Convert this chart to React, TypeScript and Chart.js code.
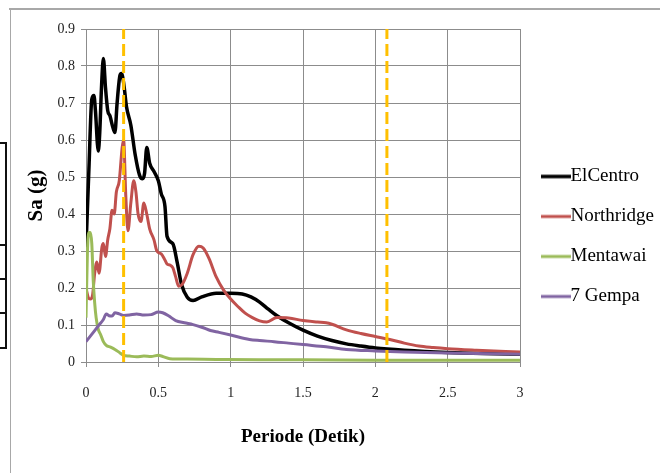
import React, { useEffect, useRef } from 'react';
import { Chart, registerables } from 'chart.js';

Chart.register(...registerables);

// ---- data (Periode in detik, Sa in g) ----
const SERIES_NAMES = ['ElCentro', 'Northridge', 'Mentawai', '7 Gempa'];

const ELCENTRO_T = [0, 0.02, 0.04, 0.055, 0.065, 0.085, 0.095, 0.108, 0.12, 0.135, 0.15, 0.166, 0.185, 0.2, 0.215, 0.235, 0.245, 0.26, 0.28, 0.31, 0.34, 0.37, 0.39, 0.405, 0.42, 0.44, 0.47, 0.5, 0.52, 0.546, 0.56, 0.6, 0.63, 0.66, 0.7, 0.74, 0.8, 0.9, 1.0, 1.08, 1.14, 1.2, 1.26, 1.32, 1.4, 1.5, 1.6, 1.7, 1.8, 1.9, 2.0, 2.2, 2.5, 2.75, 3.0];
const ELCENTRO_SA = [0.31, 0.52, 0.71, 0.72, 0.68, 0.57, 0.62, 0.75, 0.82, 0.74, 0.68, 0.665, 0.635, 0.62, 0.7, 0.775, 0.78, 0.755, 0.69, 0.64, 0.56, 0.505, 0.495, 0.51, 0.58, 0.537, 0.515, 0.49, 0.455, 0.42, 0.34, 0.32, 0.27, 0.21, 0.175, 0.166, 0.176, 0.186, 0.186, 0.184, 0.176, 0.162, 0.143, 0.125, 0.106, 0.086, 0.07, 0.058, 0.049, 0.043, 0.038, 0.032, 0.026, 0.023, 0.021];

const NORTHRIDGE_T = [0, 0.015, 0.03, 0.045, 0.06, 0.075, 0.09, 0.11, 0.12, 0.135, 0.15, 0.165, 0.18, 0.195, 0.21, 0.23, 0.25, 0.26, 0.275, 0.29, 0.31, 0.33, 0.345, 0.36, 0.38, 0.4, 0.42, 0.44, 0.47, 0.49, 0.52, 0.54, 0.56, 0.58, 0.6, 0.62, 0.64, 0.665, 0.7, 0.74, 0.78, 0.81, 0.85, 0.9, 0.95, 1.0, 1.05, 1.1, 1.15, 1.2, 1.25, 1.32, 1.4, 1.5, 1.6, 1.66, 1.7, 1.8, 1.9, 2.0, 2.1, 2.2, 2.3, 2.4, 2.5, 2.7, 3.0];
const NORTHRIDGE_SA = [0.2, 0.175, 0.17, 0.18, 0.24, 0.27, 0.24, 0.31, 0.32, 0.285, 0.33, 0.36, 0.41, 0.4, 0.46, 0.49, 0.58, 0.6, 0.45, 0.355, 0.43, 0.49, 0.46, 0.4, 0.38, 0.43, 0.4, 0.36, 0.33, 0.3, 0.292, 0.28, 0.265, 0.262, 0.255, 0.23, 0.205, 0.21, 0.24, 0.29, 0.313, 0.308, 0.28, 0.23, 0.195, 0.17, 0.15, 0.132, 0.12, 0.111, 0.108, 0.12, 0.119, 0.112, 0.108, 0.106, 0.102, 0.087, 0.077, 0.069, 0.061, 0.051, 0.043, 0.039, 0.036, 0.032, 0.027];

const MENTAWAI_T = [0, 0.01, 0.02, 0.03, 0.04, 0.05, 0.06, 0.07, 0.085, 0.1, 0.12, 0.14, 0.17, 0.2, 0.23, 0.26, 0.3, 0.35, 0.4, 0.45, 0.5, 0.53, 0.58, 0.7, 0.9, 1.2, 1.5, 2.0, 2.5, 3.0];
const MENTAWAI_SA = [0.12, 0.3, 0.35, 0.35, 0.32, 0.22, 0.16, 0.12, 0.088, 0.075, 0.055, 0.045, 0.04, 0.034, 0.026, 0.018, 0.016, 0.014, 0.016, 0.015, 0.018, 0.015, 0.009, 0.008, 0.007, 0.006, 0.006, 0.005, 0.005, 0.005];

const GEMPA7_T = [0, 0.03, 0.06, 0.09, 0.12, 0.14, 0.16, 0.18, 0.2, 0.23, 0.26, 0.3, 0.35, 0.4, 0.45, 0.5, 0.53, 0.57, 0.62, 0.68, 0.74, 0.8, 0.86, 0.92, 1.0, 1.13, 1.2, 1.3, 1.4, 1.5, 1.66, 1.8, 2.0, 2.2, 2.5, 2.8, 3.0];
const GEMPA7_SA = [0.055, 0.07, 0.085, 0.1, 0.115, 0.13, 0.125, 0.124, 0.133, 0.13, 0.126, 0.127, 0.13, 0.127, 0.128, 0.135, 0.133, 0.125, 0.112, 0.106, 0.101, 0.094, 0.085, 0.08, 0.073, 0.061, 0.058, 0.055, 0.051, 0.047, 0.041, 0.034, 0.03, 0.027, 0.024, 0.022, 0.021];

const REF_PERIODS = [0.26, 2.08];
const REF_SA_RANGE = [0, 0.9];

const X_TICKS = [0, 0.5, 1, 1.5, 2, 2.5, 3];
const X_TICK_LABELS = ['0', '0.5', '1', '1.5', '2', '2.5', '3'];
const Y_TICKS = [0, 0.1, 0.2, 0.3, 0.4, 0.5, 0.6, 0.7, 0.8, 0.9];
const Y_TICK_LABELS = ['0', '0.1', '0.2', '0.3', '0.4', '0.5', '0.6', '0.7', '0.8', '0.9'];

const COLORS = ['#000000', '#C0504D', '#9BBB59', '#8064A2'];
const WIDTHS = [3.5, 3, 3, 3];
const REF_COLOR = '#FFC000';

const zip = (xs: number[], ys: number[]) => xs.map((x, i) => ({ x, y: ys[i] }));

function makeSwatch(color: string, width: number) {
  const c = document.createElement('canvas');
  c.width = 40;
  c.height = 8;
  const g = c.getContext('2d')!;
  g.strokeStyle = color;
  g.lineWidth = width;
  g.beginPath();
  g.moveTo(10, 4);
  g.lineTo(40, 4);
  g.stroke();
  return c;
}

export default function App() {
  const ref = useRef<HTMLCanvasElement | null>(null);

  useEffect(() => {
    if (!ref.current) return;
    const swatches = COLORS.map((c, i) => makeSwatch(c, WIDTHS[i]));
    const seriesT = [ELCENTRO_T, NORTHRIDGE_T, MENTAWAI_T, GEMPA7_T];
    const seriesSa = [ELCENTRO_SA, NORTHRIDGE_SA, MENTAWAI_SA, GEMPA7_SA];

    const datasets: any[] = SERIES_NAMES.map((name, i) => ({
      label: name,
      data: zip(seriesT[i], seriesSa[i]),
      borderColor: COLORS[i],
      backgroundColor: COLORS[i],
      borderWidth: WIDTHS[i],
      pointRadius: 0,
      cubicInterpolationMode: 'monotone',
      order: 4 - i,
    }));
    REF_PERIODS.forEach((p, k) => {
      datasets.push({
        label: 'ref' + k,
        data: REF_SA_RANGE.map((y) => ({ x: p, y })),
        borderColor: REF_COLOR,
        borderWidth: 3,
        borderDash: [12, 5],
        pointRadius: 0,
        order: 0,
      });
    });

    const labelFor = (values: number[], labels: string[]) => (v: any) => {
      const idx = values.findIndex((t) => Math.abs(t - Number(v)) < 1e-9);
      return idx >= 0 ? labels[idx] : '';
    };

    const gridColor = '#8c8c8c';
    const chart = new Chart(ref.current, {
      type: 'line',
      data: { datasets },
      options: {
        responsive: false,
        animation: false,
        devicePixelRatio: 1,
        layout: { padding: 0 },
        plugins: {
          tooltip: { enabled: false },
          title: {
            display: true,
            text: ' ',
            font: { size: 10 },
            padding: { top: 17, bottom: 0 },
          },
          legend: {
            position: 'right',
            align: 'center',
            maxWidth: 140,
            labels: {
              usePointStyle: true,
              pointStyleWidth: 20,
              padding: 21,
              color: '#000',
              font: { family: 'Liberation Serif', size: 19 },
              generateLabels: (ch: any) => {
                const items = (Chart as any).defaults.plugins.legend.labels.generateLabels(ch);
                return items
                  .filter((it: any) => it.datasetIndex < 4)
                  .sort((a: any, b: any) => a.datasetIndex - b.datasetIndex)
                  .map((it: any) => ({ ...it, pointStyle: swatches[it.datasetIndex], fontColor: '#000' }));
              },
            },
          },
        },
        scales: {
          x: {
            type: 'linear',
            min: 0,
            max: 3,
            afterBuildTicks: (s: any) => {
              s.ticks = X_TICKS.map((v) => ({ value: v }));
            },
            afterFit: (s: any) => {
              s.height = 111;
            },
            ticks: {
              color: '#222',
              padding: 18,
              font: { family: 'Liberation Serif', size: 14 },
              callback: labelFor(X_TICKS, X_TICK_LABELS),
            },
            grid: { color: gridColor, lineWidth: 1, tickLength: 5 },
            border: { color: gridColor, width: 1 },
            title: {
              display: true,
              text: 'Periode (Detik)',
              color: '#000',
              font: { family: 'Liberation Serif', size: 19, weight: 'bold' },
              padding: { top: 0, bottom: 25 },
            },
          },
          y: {
            type: 'linear',
            min: 0,
            max: 0.9,
            afterBuildTicks: (s: any) => {
              s.ticks = Y_TICKS.map((v) => ({ value: v }));
            },
            afterFit: (s: any) => {
              s.width = 86;
            },
            ticks: {
              color: '#222',
              padding: 6,
              font: { family: 'Liberation Serif', size: 14 },
              callback: labelFor(Y_TICKS, Y_TICK_LABELS),
            },
            grid: { color: gridColor, lineWidth: 1, tickLength: 5 },
            border: { color: gridColor, width: 1 },
            title: {
              display: true,
              text: 'Sa (g)',
              color: '#000',
              font: { family: 'Liberation Serif', size: 21, weight: 'bold' },
              padding: { top: 24, bottom: 0 },
            },
          },
        },
      } as any,
    });
    return () => chart.destroy();
  }, []);

  const tableLines = [142, 244, 278, 312, 347];

  return (
    <div style={{ position: 'fixed', left: 0, top: 0, width: 660, height: 473, background: '#fff', overflow: 'hidden' }}>
      <canvas ref={ref} width={660} height={473} style={{ position: 'absolute', left: 0, top: 0, width: 660, height: 473 }} />
      <div style={{ position: 'absolute', left: 9, top: 8, width: 651, height: 2, background: '#a8a8a8' }} />
      <div style={{ position: 'absolute', left: 10, top: 8, width: 1, height: 465, background: '#a8a8a8' }} />
      <div style={{ position: 'absolute', left: 5, top: 142, width: 2, height: 206, background: '#111' }} />
      {tableLines.map((y) => (
        <div key={y} style={{ position: 'absolute', left: 0, top: y, width: 7, height: 2, background: '#111' }} />
      ))}
    </div>
  );
}
